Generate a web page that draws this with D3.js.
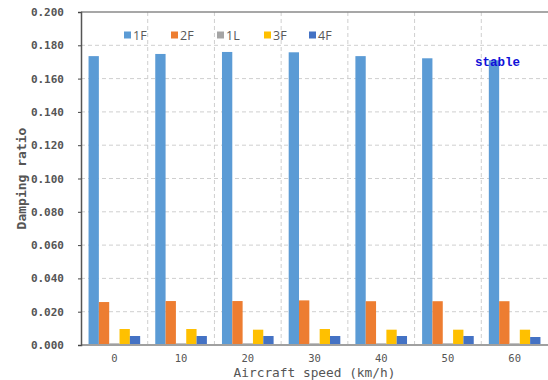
<!DOCTYPE html>
<html>
<head>
<meta charset="utf-8">
<script src="https://cdn.jsdelivr.net/npm/d3@7"></script>
<style>
  body { margin: 0; background: #fff; }
  svg { display: block; }
  .mono { font-family: "DejaVu Sans Mono", monospace; }
</style>
</head>
<body>
<div id="chart"></div>
<script>
// Damping ratio by aircraft speed, five modes as grouped bars.

const speeds = ["0", "10", "20", "30", "40", "50", "60"];
const modes = ["1F", "2F", "1L", "3F", "4F"];
const modeColors = ["#5b9bd5", "#ed7d31", "#a5a5a5", "#ffc000", "#4472c4"];

const val1F = [0.1735, 0.1748, 0.1760, 0.1758, 0.1735, 0.1722, 0.1710];
const val2F = [0.0258, 0.0264, 0.0264, 0.0268, 0.0263, 0.0263, 0.0263];
const val1L = [0.0010, 0.0010, 0.0010, 0.0010, 0.0010, 0.0010, 0.0010];
const val3F = [0.0096, 0.0096, 0.0092, 0.0096, 0.0092, 0.0092, 0.0092];
const val4F = [0.0054, 0.0054, 0.0054, 0.0054, 0.0054, 0.0054, 0.0048];

const yTicks = [0, 0.02, 0.04, 0.06, 0.08, 0.10, 0.12, 0.14, 0.16, 0.18, 0.20];

const W = 548, H = 380;
const margin = { top: 12, right: 0, bottom: 35, left: 81 };

const seriesVals = [val1F, val2F, val1L, val3F, val4F];
const rows = speeds.map((s, i) => ({
  s, vals: modes.map((m, j) => ({ m, v: seriesVals[j][i], c: modeColors[j] }))
}));

const svg = d3.select("#chart").append("svg").attr("width", W).attr("height", H);

const x0 = d3.scaleBand().domain(speeds).range([margin.left, W - margin.right]).padding(0);
const x1 = d3.scaleBand().domain(modes).range([0, x0.bandwidth()]).paddingInner(0).paddingOuter(0.73);
const y = d3.scaleLinear().domain([0, 0.2]).range([H - margin.bottom, margin.top]);

// grid
const grid = svg.append("g");
grid.selectAll("line.h").data(yTicks.filter(t => t > 0 && t < 0.2)).enter().append("line")
  .attr("x1", margin.left).attr("x2", W - margin.right)
  .attr("y1", d => y(d)).attr("y2", d => y(d))
  .attr("stroke", "#cfcfcf").attr("stroke-dasharray", "4,3");
grid.selectAll("line.v").data(speeds.slice(1)).enter().append("line")
  .attr("x1", d => x0(d)).attr("x2", d => x0(d))
  .attr("y1", y(0.2)).attr("y2", y(0))
  .attr("stroke", "#cfcfcf").attr("stroke-dasharray", "4,3");

// bars
const groups = svg.append("g").selectAll("g").data(rows).enter().append("g")
  .attr("transform", d => `translate(${x0(d.s)},0)`);
groups.selectAll("rect").data(d => d.vals).enter().append("rect")
  .attr("x", d => x1(d.m))
  .attr("y", d => y(d.v))
  .attr("width", x1.bandwidth())
  .attr("height", d => y(0) - y(d.v))
  .attr("fill", d => d.c);

// frame lines
svg.append("line").attr("x1", margin.left).attr("x2", W).attr("y1", y(0.2)).attr("y2", y(0.2))
  .attr("stroke", "#8a8a8a").attr("stroke-width", 1.5);
svg.append("line").attr("x1", margin.left).attr("x2", W).attr("y1", y(0)).attr("y2", y(0))
  .attr("stroke", "#a0a0a0").attr("stroke-width", 2);

// y axis
const gY = svg.append("g").attr("class", "mono").attr("transform", `translate(${margin.left},0)`)
  .call(d3.axisLeft(y).tickValues(yTicks).tickFormat(d3.format(".3f")).tickSize(3).tickPadding(14));
gY.select(".domain").attr("stroke", "#555").attr("stroke-width", 1.5);
gY.selectAll(".tick line").attr("stroke", "#444");
gY.selectAll("text").attr("font-size", 11).attr("fill", "#555").attr("font-weight", "bold")
  .attr("font-family", "DejaVu Sans Mono, monospace");

// x tick labels
svg.append("g").selectAll("text").data(speeds).enter().append("text")
  .attr("class", "mono")
  .attr("x", d => x0(d) + x0.bandwidth() / 2).attr("y", 362)
  .attr("text-anchor", "middle").attr("font-size", 10.5).attr("fill", "#555")
  .text(d => d);

// axis titles
svg.append("text").attr("class", "mono")
  .attr("x", (margin.left + W) / 2).attr("y", 376.5)
  .attr("text-anchor", "middle").attr("font-size", 12.8).attr("fill", "#555")
  .text("Aircraft speed (km/h)");
svg.append("text").attr("class", "mono")
  .attr("transform", `translate(26,${(y(0) + y(0.2)) / 2}) rotate(-90)`)
  .attr("text-anchor", "middle").attr("font-size", 13).attr("fill", "#555").attr("font-weight", "bold")
  .text("Damping ratio");

// legend
const legendX = [124, 171, 217, 264, 309];
const lg = svg.append("g").selectAll("g").data(modes).enter().append("g")
  .attr("transform", (d, i) => `translate(${legendX[i]},35)`);
lg.append("rect").attr("x", 0).attr("y", -3.5).attr("width", 7).attr("height", 7)
  .attr("fill", (d, i) => modeColors[i]);
lg.append("text").attr("x", 9).attr("y", 4.5)
  .attr("font-family", "Open Sans, sans-serif").attr("font-size", 12.5).attr("fill", "#595959")
  .text(d => d);

// annotation
svg.append("text")
  .attr("x", 475).attr("y", 66)
  .attr("font-family", "Liberation Mono, monospace").attr("font-weight", "bold")
  .attr("font-size", 12.5).attr("fill", "#1010d8")
  .text("stable");
</script>
</body>
</html>
